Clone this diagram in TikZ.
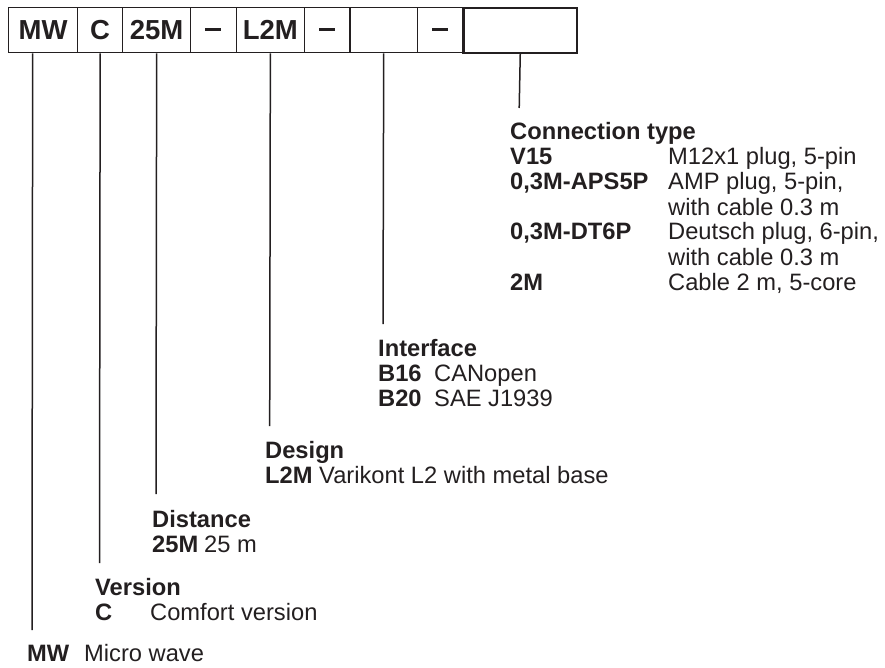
\documentclass[tikz,border=0pt]{standalone}
\usepackage{fontspec}
\setmainfont{Liberation Sans}
\definecolor{ink}{HTML}{231F20}
\newcommand{\cdash}{{\vphantom{M}\color{ink}\rule[8.2pt]{16pt}{3pt}}}
\begin{document}
\begin{tikzpicture}[x=1pt,y=-1pt,
  txt/.style={anchor=base west, inner sep=0pt, text=ink, font=\fontsize{23.7}{25}\selectfont},
  hd/.style={anchor=base west, inner sep=0pt, text=ink, font=\fontsize{23.7}{25}\selectfont\bfseries},
  cell/.style={draw=ink, line width=1.3pt, anchor=north west, inner sep=0pt, minimum height=45pt, text=ink, font=\fontsize{27.5}{27.5}\selectfont\bfseries},
  lead/.style={draw=ink, line width=1.5pt}]
\useasboundingbox (0,0) rectangle (885,668);
% code boxes
\node[cell, minimum width=69pt]   (b1) at (8,7)     {MW};
\node[cell, minimum width=45pt]   (b2) at (77,7)    {C};
\node[cell, minimum width=68pt]   (b3) at (122,7)   {25M};
\node[cell, minimum width=45.6pt] (b4) at (190,7)   {\cdash};
\node[cell, minimum width=68.2pt] (b5) at (235.6,7) {L2M};
\node[cell, minimum width=45.6pt] (b6) at (303.8,7) {\cdash};
\node[cell, minimum width=67.3pt] (b7) at (349.4,7) {};
\node[cell, minimum width=45.6pt] (b8) at (416.7,7) {\cdash};
\node[cell, minimum width=113.7pt, line width=2.2pt] (b9) at (462.3,7) {};
% leader ends
\coordinate (e9) at (519.2,108);
\coordinate (e7) at (383,324);
\coordinate (e5) at (269.7,426);
\coordinate (e3) at (156,494);
\coordinate (e2) at (99.5,563);
\coordinate (e1) at (32,630);
\draw[lead] (b9.south) -- (e9);
\draw[lead] (b7.south) -- (e7);
\draw[lead] (b5.south) -- (e5);
\draw[lead] (b3.south) -- (e3);
\draw[lead] (b2.south) -- (e2);
\draw[lead] ([xshift=-10.5pt]b1.south) -- (e1);
% connection type
\node[hd]  (ct)  at (510,140) {Connection type};
\node[hd]  (ct1) at (510,165) {V15};
\node[txt] (cd1) at (668,165) {M12x1 plug, 5-pin};
\node[hd]  (ct2) at (510,190) {0,3M-APS5P};
\node[txt] (cd2) at (668,190) {AMP plug, 5-pin,};
\node[txt] (cd2b) at (668,215) {with cable 0.3 m};
\node[hd]  (ct3) at (510,240) {0,3M-DT6P};
\node[txt] (cd3) at (668,240) {Deutsch plug, 6-pin,};
\node[txt] (cd3b) at (668,265) {with cable 0.3 m};
\node[hd]  (ct4) at (510,290) {2M};
\node[txt] (cd4) at (668,290) {Cable 2 m, 5-core};
% interface
\node[hd]  (if)  at (378,356) {Interface};
\node[hd]  (if1) at (378,381) {B16};
\node[txt] (id1) at (434,381) {CANopen};
\node[hd]  (if2) at (378,406) {B20};
\node[txt] (id2) at (434,406) {SAE J1939};
% design
\node[hd]  (de)  at (265,458) {Design};
\node[hd]  (de1) at (265,483) {L2M};
\node[txt] (dd1) at (319,483) {Varikont L2 with metal base};
% distance
\node[hd]  (di)  at (152,527) {Distance};
\node[hd]  (di1) at (152,552) {25M};
\node[txt] (dd2) at (204,552) {25 m};
% version
\node[hd]  (ve)  at (95,595) {Version};
\node[hd]  (ve1) at (95,620) {C};
\node[txt] (vd1) at (150,620) {Comfort version};
% micro wave
\node[hd]  (mw)  at (27,661) {MW};
\node[txt] (md)  at (84,661) {Micro wave};
\end{tikzpicture}
\end{document}
